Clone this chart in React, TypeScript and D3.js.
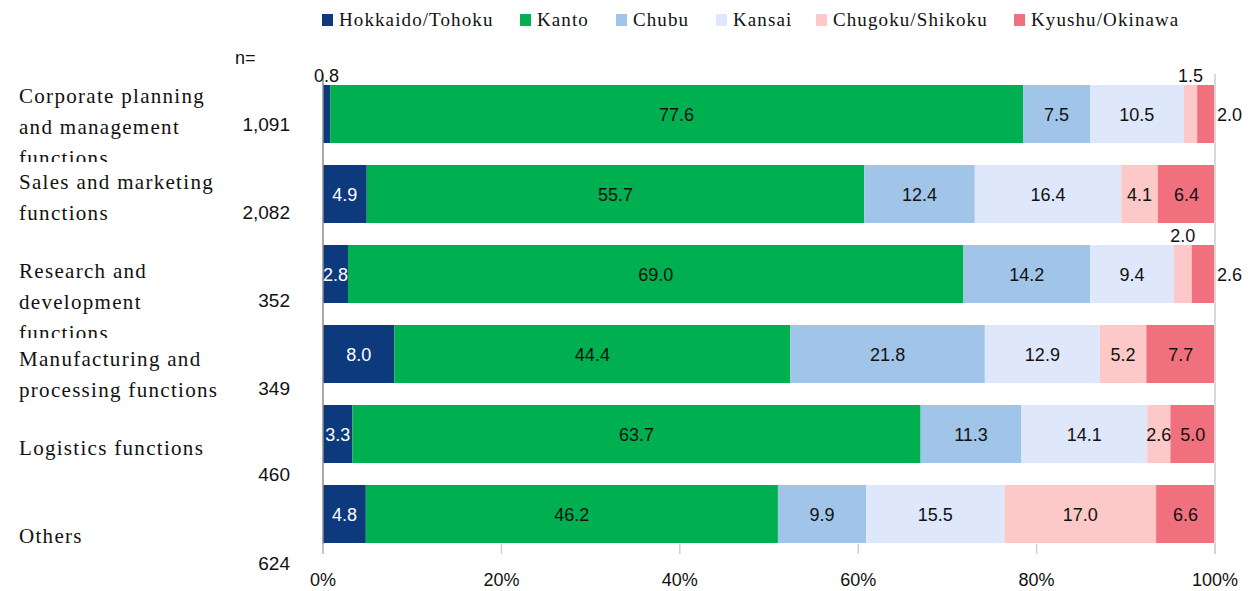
import React from "react";
import * as d3 from "d3";

const categories = [
  "Corporate planning\nand management\nfunctions",
  "Sales and marketing\nfunctions",
  "Research and\ndevelopment\nfunctions",
  "Manufacturing and\nprocessing functions",
  "Logistics functions",
  "Others",
];
const nValues = ["1,091", "2,082", "352", "349", "460", "624"];
const series = ["Hokkaido/Tohoku", "Kanto", "Chubu", "Kansai", "Chugoku/Shikoku", "Kyushu/Okinawa"];
const hokkaido = [0.8, 4.9, 2.8, 8.0, 3.3, 4.8];
const kanto = [77.6, 55.7, 69.0, 44.4, 63.7, 46.2];
const chubu = [7.5, 12.4, 14.2, 21.8, 11.3, 9.9];
const kansai = [10.5, 16.4, 9.4, 12.9, 14.1, 15.5];
const chugoku = [1.5, 4.1, 2.0, 5.2, 2.6, 17.0];
const kyushu = [2.0, 6.4, 2.6, 7.7, 5.0, 6.6];
const ticks = [0, 20, 40, 60, 80, 100];
// labels placed outside the bar: [row, series, placement]
const outsideLabels: [number, number, string][] = [
  [0, 0, "above"],
  [0, 4, "above"],
  [0, 5, "right"],
  [2, 4, "above"],
  [2, 5, "right"],
];

const colors = ["#0d3a7c", "#00b050", "#a1c5e9", "#dfe8fa", "#fdc8c8", "#f0707d"];
const textColors = ["#ffffff", "#111", "#111", "#111", "#111", "#111"];

// layout
const W = 1258, H = 591;
const plotLeft = 323, plotRight = 1215, plotTop = 74, plotBottom = 554;
const labelBaselines = [103, 189, 278, 366, 455, 543];
const lineStep = 31;
const labelClipBottom = [162, 240, 338, 420, 500, 580];
const nBaselines = [131, 219, 307, 395, 481, 570];
const legendX = [322, 520, 616, 716, 816, 1014];

export default function App() {
  const values = [hokkaido, kanto, chubu, kansai, chugoku, kyushu];
  const rows = categories.map((c, i) => {
    const r: any = { cat: c };
    series.forEach((s, j) => (r[s] = values[j][i]));
    return r;
  });
  const stacked = d3.stack().keys(series).offset(d3.stackOffsetExpand)(rows);
  const x = d3.scaleLinear().domain([0, 1]).range([plotLeft, plotRight]);
  const xt = d3.scaleLinear().domain([0, 100]).range([plotLeft, plotRight]);
  const y = d3.scaleBand().domain(categories).range([plotTop, plotBottom]).paddingInner(0.275).paddingOuter(0.1375);
  const bw = y.bandwidth();
  const serif = "'Liberation Serif', 'Times New Roman', serif";
  const sans = "'Liberation Sans', Arial, sans-serif";

  return (
    <svg width={W} height={H} style={{ position: "absolute", left: 0, top: 0, background: "#fff" }}>
      <defs>
        {categories.map((c, i) => (
          <clipPath id={`clip${i}`} key={i}>
            <rect x={0} y={0} width={240} height={labelClipBottom[i]} />
          </clipPath>
        ))}
      </defs>
      {/* legend */}
      {series.map((s, j) => (
        <g key={s}>
          <rect x={legendX[j]} y={14} width={11} height={12} fill={colors[j]} />
          <text x={legendX[j] + 17} y={26} fontFamily={serif} fontSize={19} letterSpacing={1.1} fill="#111">
            {s}
          </text>
        </g>
      ))}
      {/* category labels */}
      {categories.map((c, i) => (
        <g key={c} clipPath={`url(#clip${i})`}>
          {c.split("\n").map((line, k) => (
            <text key={k} x={19} y={labelBaselines[i] + k * lineStep} fontFamily={serif} fontSize={21} letterSpacing={1.3} fill="#111">
              {line}
            </text>
          ))}
        </g>
      ))}
      <text x={235} y={64} fontFamily={sans} fontSize={18} fill="#111">n=</text>
      {nValues.map((n, i) => (
        <text key={i} x={290} y={nBaselines[i]} textAnchor="end" fontFamily={sans} fontSize={19} fill="#111">
          {n}
        </text>
      ))}
      {/* bars */}
      {stacked.map((layer, j) =>
        layer.map((d, i) => (
          <rect key={`${j}-${i}`} x={x(d[0])} y={y(categories[i])!} width={x(d[1]) - x(d[0])} height={bw} fill={colors[j]} />
        ))
      )}
      {/* gridline at 100% and axis */}
      <line x1={plotRight} x2={plotRight} y1={plotTop} y2={plotBottom} stroke="#d9d9d9" strokeWidth={2} />
      <line x1={plotLeft} x2={plotLeft} y1={plotTop} y2={plotBottom} stroke="#8c8c8c" strokeWidth={1.5} />
      {ticks.map((t) => (
        <g key={t}>
          <line x1={xt(t)} x2={xt(t)} y1={plotBottom - 10} y2={plotBottom} stroke="#d0d0d0" strokeWidth={1.5} />
          <text x={xt(t)} y={586} textAnchor="middle" fontFamily={sans} fontSize={18} fill="#111">
            {t}%
          </text>
        </g>
      ))}
      {/* data labels */}
      {stacked.map((layer, j) =>
        layer.map((d, i) => {
          const v = values[j][i];
          const top = y(categories[i])!;
          const cx = (x(d[0]) + x(d[1])) / 2;
          const o = outsideLabels.find((p) => p[0] === i && p[1] === j);
          let tx = cx, ty = top + bw / 2 + 6.5, anchor = "middle", fill = textColors[j];
          if (o && o[2] === "above") {
            ty = top - 3;
            fill = "#111";
          } else if (o && o[2] === "right") {
            tx = x(d[1]) + 2;
            anchor = "start";
            fill = "#111";
          }
          return (
            <text key={`l${j}-${i}`} x={tx} y={ty} textAnchor={anchor as any} fontFamily={sans} fontSize={18} fill={fill}>
              {v.toFixed(1)}
            </text>
          );
        })
      )}
    </svg>
  );
}
